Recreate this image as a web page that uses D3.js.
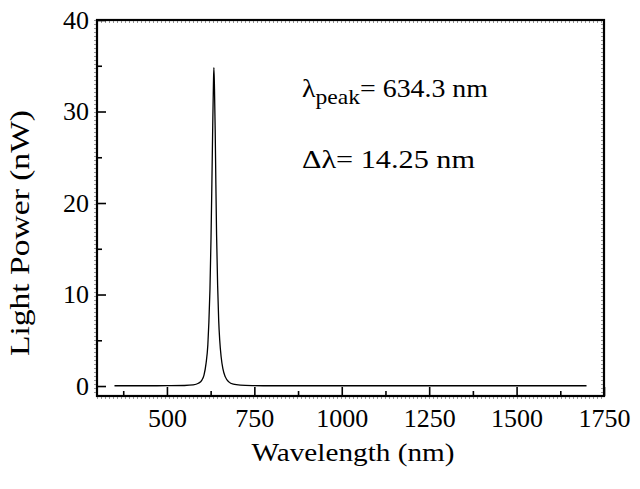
<!DOCTYPE html>
<html>
<head>
<meta charset="utf-8">
<script src="https://cdn.jsdelivr.net/npm/d3@7"></script>
<style>
  html, body { margin: 0; padding: 0; background: #fff; }
  svg { display: block; }
</style>
</head>
<body>
<svg id="chart" width="640" height="489" font-family="Liberation Serif"></svg>
<script>
// ---- data ----
const wavelength = [350, 400, 450, 500, 550, 575, 590, 600, 606, 612, 617, 620, 623, 626, 628.5, 631, 633, 634.3,
  636, 638, 640, 642, 645, 648, 651, 655, 660, 667, 677, 690, 710, 750, 800, 900, 1000, 1100, 1200, 1300, 1400, 1500, 1600, 1700];
const power = [0.03, 0.03, 0.03, 0.04, 0.06, 0.12, 0.3, 0.65, 1.2, 2.5, 4.5, 7, 10.5, 16, 22, 28.5, 33, 34.8,
  32.5, 28, 22, 16.5, 11, 7.2, 5, 3.2, 1.9, 1.0, 0.45, 0.2, 0.1, 0.05, 0.03, 0.03, 0.03, 0.03, 0.03, 0.03, 0.03, 0.03, 0.03, 0.03];
const xMajorTicks = [500, 750, 1000, 1250, 1500, 1750];
const xMinorTicks = [375, 625, 875, 1125, 1375, 1625];
const yMajorTicks = [0, 10, 20, 30, 40];
const yMinorTicks = [5, 15, 25, 35];
const xTitle = "Wavelength (nm)";
const yTitle = "Light Power (nW)";
const peakLabel = { sym: "λ", sub: "peak", rest: "= 634.3 nm" };
const widthLabel = "Δλ= 14.25 nm";

// ---- layout ----
const FONT = "Liberation Serif";
const L = 97, R = 604, T = 20, B = 396;
const svg = d3.select("#chart");
const x = d3.scaleLinear().domain([300, 1750]).range([L, R]);
const y = d3.scaleLinear().domain([-1.09, 40]).range([B, T]);

// dotted texture along frame
const dot = svg.append("g").attr("stroke", "#000").attr("stroke-width", 1).attr("stroke-dasharray", "1,3").attr("opacity", 0.8);
dot.append("line").attr("x1", L).attr("x2", R).attr("y1", T + 2).attr("y2", T + 2);
dot.append("line").attr("x1", R - 2).attr("x2", R - 2).attr("y1", T).attr("y2", B);
dot.append("line").attr("x1", L).attr("x2", R).attr("y1", B + 2).attr("y2", B + 2);
dot.append("line").attr("x1", L - 2).attr("x2", L - 2).attr("y1", T).attr("y2", B);

// bottom axis
const xAxis = svg.append("g").attr("transform", `translate(0,${B})`)
  .call(d3.axisBottom(x).tickValues(xMajorTicks).tickSizeInner(-9).tickSizeOuter(0).tickPadding(13).tickFormat(d3.format("d")));
xAxis.attr("font-family", FONT).attr("font-size", 26);
xAxis.select(".domain").remove();
xAxis.selectAll(".tick line").attr("stroke-width", 1.6);
xAxis.selectAll(".tick text").attr("font-family", FONT).attr("font-size", 26).attr("fill", "#000");
const xMinor = svg.append("g").attr("transform", `translate(0,${B})`)
  .call(d3.axisBottom(x).tickValues(xMinorTicks).tickSizeInner(-5).tickSizeOuter(0).tickFormat(""));
xMinor.select(".domain").remove();
xMinor.selectAll(".tick line").attr("stroke-width", 1.6);

// left axis
const yAxis = svg.append("g").attr("transform", `translate(${L},0)`)
  .call(d3.axisLeft(y).tickValues(yMajorTicks).tickSizeInner(-9).tickSizeOuter(0).tickPadding(8).tickFormat(d3.format("d")));
yAxis.attr("font-family", FONT).attr("font-size", 26);
yAxis.select(".domain").remove();
yAxis.selectAll(".tick line").attr("stroke-width", 1.6);
yAxis.selectAll(".tick text").attr("font-family", FONT).attr("font-size", 26).attr("fill", "#000");
const yMinor = svg.append("g").attr("transform", `translate(${L},0)`)
  .call(d3.axisLeft(y).tickValues(yMinorTicks).tickSizeInner(-5).tickSizeOuter(0).tickFormat(""));
yMinor.select(".domain").remove();
yMinor.selectAll(".tick line").attr("stroke-width", 1.6);

// frame
svg.append("rect").attr("x", L).attr("y", T).attr("width", R - L).attr("height", B - T)
  .attr("fill", "none").attr("stroke", "#000").attr("stroke-width", 2.2);

// data line
const line = d3.line().x((d, i) => x(wavelength[i])).y(d => y(d)).curve(d3.curveMonotoneX);
svg.append("path").datum(power).attr("d", line)
  .attr("fill", "none").attr("stroke", "#000").attr("stroke-width", 1.3);

// axis titles
svg.append("text").attr("x", 353).attr("y", 461).attr("text-anchor", "middle").attr("font-family", FONT)
  .attr("font-size", 26).attr("textLength", 203).attr("lengthAdjust", "spacingAndGlyphs").text(xTitle);
svg.append("text").attr("transform", "translate(29,233) rotate(-90)").attr("text-anchor", "middle").attr("font-family", FONT)
  .attr("font-size", 28).attr("textLength", 246).attr("lengthAdjust", "spacingAndGlyphs").text(yTitle);

// annotations
const a1 = svg.append("text").attr("x", 302).attr("y", 97).attr("font-family", FONT).attr("font-size", 26)
  .attr("textLength", 186).attr("lengthAdjust", "spacingAndGlyphs");
a1.append("tspan").text(peakLabel.sym);
a1.append("tspan").attr("font-size", 22).attr("dy", 7).text(peakLabel.sub);
a1.append("tspan").attr("dy", -7).text(peakLabel.rest);
svg.append("text").attr("x", 302).attr("y", 168).attr("font-family", FONT).attr("font-size", 26)
  .attr("textLength", 173).attr("lengthAdjust", "spacingAndGlyphs").text(widthLabel);
</script>
</body>
</html>
